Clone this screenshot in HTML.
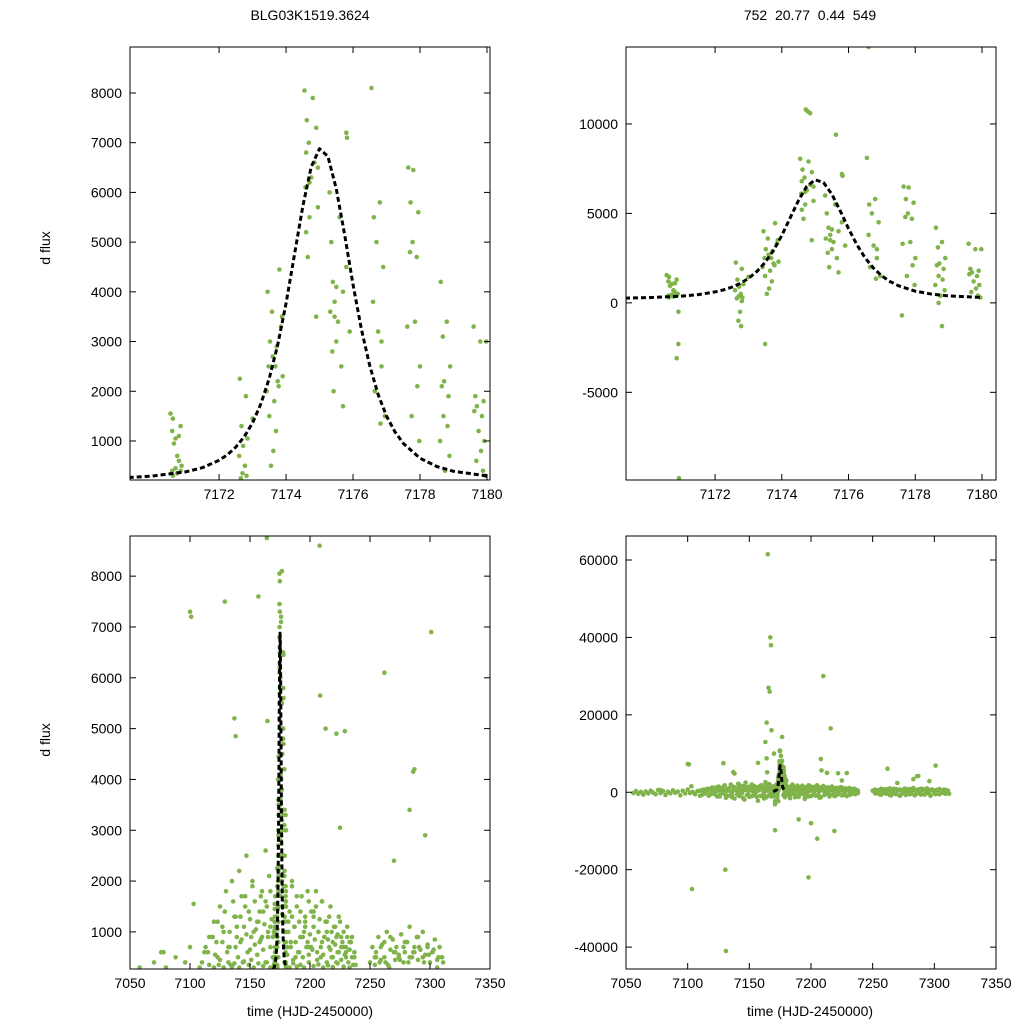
<!DOCTYPE html>
<html><head><meta charset="utf-8"><style>
html,body{margin:0;padding:0;background:#fff;overflow:hidden;width:1024px;height:1024px;}
svg{display:block;}
svg text{font-family:"Liberation Sans",sans-serif;font-size:14px;fill:#000;}
</style></head><body>
<svg id="chart" width="1024" height="1024" viewBox="0 0 1024 1024" xmlns="http://www.w3.org/2000/svg">
<rect width="1024" height="1024" fill="#fff"/>
<text x="310" y="20" text-anchor="middle">BLG03K1519.3624</text>
<text x="810" y="20" text-anchor="middle" xml:space="preserve">752  20.77  0.44  549</text>
<text x="50" y="248" text-anchor="middle" transform="rotate(-90 50 248)">d flux</text>
<text x="50" y="740" text-anchor="middle" transform="rotate(-90 50 740)">d flux</text>
<text x="310" y="1016" text-anchor="middle">time (HJD-2450000)</text>
<text x="810" y="1016" text-anchor="middle">time (HJD-2450000)</text>
</svg>
<script>
// zoom-window photometry (t, dflux)
const zoomT = [7170.55,7170.62,7170.6,7170.7,7170.65,7170.8,7170.7,7170.85,7170.75,7170.62,7170.8,7170.9,7170.85,7170.6,7170.9,7170.85,7170.92,7170.88,7170.75,
7172.62,7172.8,7172.67,7172.85,7172.72,7172.6,7172.77,7172.7,7172.82,7172.65,7172.75,7172.7,7172.78,7172.8,7173.0,
7173.42,7173.75,7173.48,7173.6,7173.52,7173.85,7173.58,7173.45,7173.8,7173.65,7173.5,7173.7,7173.62,7173.55,7173.5,7173.78,7173.9,7173.68,7173.72,7173.88,
7174.55,7174.8,7174.62,7174.9,7174.68,7174.6,7174.85,7174.75,7174.58,7174.95,7174.7,7174.65,7174.9,7174.72,7174.78,7174.85,7174.95,7174.6,7174.7,
7175.3,7175.6,7175.35,7175.8,7175.4,7175.7,7175.45,7175.32,7175.55,7175.9,7175.5,7175.38,7175.65,7175.42,7175.7,7175.8,7175.82,7175.62,7175.45,7175.5,
7176.55,7176.8,7176.62,7176.7,7176.9,7176.6,7176.75,7176.85,7176.65,7176.95,7176.82,7176.6,7176.85,
7177.65,7177.8,7177.72,7177.95,7177.78,7177.7,7177.9,7177.85,7177.62,7178.0,7177.92,7177.75,7177.98,7177.6,
7178.62,7178.8,7178.68,7178.9,7178.72,7178.65,7178.85,7178.7,7178.82,7178.6,7178.88,7178.75,7178.8,7178.7,
7179.6,7179.8,7179.65,7179.9,7179.7,7179.62,7179.85,7179.75,7179.92,7179.82,7179.68,7179.88,7179.95,7179.98];
const zoomV = [1550,1450,1200,1050,950,600,450,400,350,300,1100,-500,1300,400,-2300,-3100,-9800,500,700,
2250,1900,1300,1050,900,700,500,350,300,250,-500,-1000,-1300,100,1450,
2000,2200,2500,2700,3000,3300,3600,4000,4450,1800,1500,1200,800,500,-2300,2100,2300,2500,2900,3500,
8050,7900,7450,7300,7000,6800,6600,6300,6100,5700,5500,4700,3500,10800,10700,10600,6500,5200,6200,
6000,5500,5000,4500,4200,4000,3800,3600,3400,3200,3000,2800,2500,2000,1700,7200,7100,9400,3500,4100,
8100,5800,5500,5000,4500,3800,3200,2500,2000,1500,1350,14300,3000,
6500,6450,5800,5600,5000,4800,4700,3400,3300,2500,2100,1500,1000,-700,
4200,3400,3100,2500,2200,2100,1900,1500,1300,1000,700,400,-1300,0,
3300,3000,1900,1800,1700,1600,1500,1200,1000,800,600,400,300,3000];
// full-season photometry
const seasonT = [7056,7058,7060,7062,7064,7066,7068,7070,7072,7074,7076,7078,7080,7082,7084,7086,7088,7090,7092,7094,7096,7098,7100,7102,7104,7106,7108,7110,7112,7114,7116,7118,7120,7121,7122,7124,7125,7126,7128,7129,7130,7131,7132,7134,7135,7136,7137,7138,7139,7140,7141,7142,7143,7144,7145,7146,7147,7148,7149,7150,7151,7152,7153,7154,7155,7156,7157,7158,7159,7160,7161,7162,7163,7164,7165,7166,7167,7168,7169,7170,
7178,7179,7180,7181,7182,7183,7184,7185,7186,7187,7188,7189,7190,7191,7192,7193,7194,7195,7196,7197,7198,7199,7200,7201,7202,7203,7204,7205,7206,7207,7208,7209,7210,7211,7212,7213,7214,7215,7216,7217,7218,7219,7220,7221,7222,7223,7224,7225,7226,7227,7228,7229,7230,7231,7232,7233,7234,7235,7236,7237,7238,
7252,7254,7256,7258,7260,7262,7264,7266,7268,7270,7272,7274,7276,7278,7280,7282,7284,7286,7288,7290,7292,7294,7296,7298,7300,7302,7304,7306,7308,7310,7312,
7115,7118,7123,7127,7133,7138,7142,7146,7150,7153,7157,7160,7163,7167,7181,7185,7188,7192,7196,7199,7203,7206,7210,7214,7218,7222,7226,7230,7234,7237,7255,7259,7263,7267,7271,7275,7279,7283,7287,7291,7295,7299,7303,7307,7311,
7112,7117,7122,7126,7131,7136,7141,7145,7149,7152,7156,7159,7162,7168,7183,7187,7191,7195,7198,7202,7207,7211,7215,7219,7223,7227,7231,7235,7253,7257,7261,7265,7269,7273,7277,7281,7285,7289,7293,7297,7301,7305,7309,
7100,7101,7164,7208,7157,7301,7262,7137,7164.5,7138,7208.5,7213,7222,7229,7287,7286,7283,7225,7296,7270,7103,7078,
7166,7165,7167,7167.5,7165.5,7166.5,7164,7168,7163,7170,7131,7297,7103.5,7198,7130.5,7210,7216,7129,7175,7176,7200,7205,7190,7219];
const seasonV = [-200,300,-400,100,-600,200,-300,400,-100,-500,600,-200,300,-700,150,-300,500,-100,200,-800,400,-300,700,-200,100,-500,300,-900,600,-300,900,-600,1200,-400,800,-1100,1500,-700,1000,-300,1800,-1400,700,-900,2000,-600,1300,-1600,900,-500,2200,-1000,1700,-300,1100,-1900,2500,-700,1400,-1200,900,2000,-800,1600,-400,1200,-2200,800,1700,-900,1400,-600,2600,-1300,1000,-700,1800,-400,900,-1100,
1900,-900,1500,-600,1200,-1500,800,2000,-400,1100,-800,1700,-1200,600,1400,-300,900,-1700,1200,-500,800,1600,-1000,700,-400,1300,-900,1800,-600,1000,-1300,500,1600,-700,900,-300,1200,-1100,700,1500,-500,800,-900,1100,-400,600,1300,-800,900,-300,700,-1000,500,1100,-600,800,-300,900,-500,600,-200,
-300,500,-600,400,-200,800,-700,300,-400,600,-900,500,-300,700,-500,400,-800,600,-300,900,-600,500,-400,700,-300,600,-500,300,-200,500,-400,
600,900,500,1100,700,1300,800,1500,650,1000,1200,900,1600,1100,700,1300,500,900,1100,700,1400,600,800,1000,500,900,700,600,800,500,500,700,400,900,600,450,800,500,600,700,400,550,650,500,400,
-600,-900,-500,-1100,-700,-1300,-800,-1500,-650,-1000,-1200,-900,-1600,-1100,-700,-1300,-500,-900,-1100,-700,-1400,-600,-800,-1000,-500,-700,-600,-400,-300,-600,-400,-800,-500,-600,-700,-400,-500,-600,-400,-900,-500,-300,-400,
7300,7200,8750,8600,7600,6900,6100,5200,5150,4850,5650,5000,4900,4950,4200,4150,3400,3050,2900,2400,1550,600,
67000,61500,40000,38000,27000,26000,18000,16000,13000,10000,-41000,-46000,-25000,-22000,-20000,30000,16500,7500,5500,4000,-8000,-12000,-7000,-10000];
// dense low-amplitude season photometry
const denseT = [7110,7113,7116,7119,7121,7123,7125,7127,7129,7131,7133,7134,7136,7138,7139,7140,7142,7143,7144,7146,7147,7148,7150,7151,7152,7154,7155,7156,7158,7159,7160,7161,7162,7163,7164,7165,7166,7167,7168,7169,7170,7171,
7178,7179,7180,7181,7182,7183,7184,7185,7186,7187,7188,7189,7190,7191,7192,7193,7194,7195,7196,7197,7198,7199,7200,7201,7202,7203,7204,7205,7206,7207,7208,7209,7210,7211,7212,7213,7214,7215,7216,7217,7218,7219,7220,7221,7222,7223,7224,7225,7226,7227,7228,7229,7230,7231,7232,7233,7234,7235,7236,7237,
7250,7252,7254,7255,7257,7259,7260,7262,7264,7265,7267,7269,7271,7272,7274,7276,7278,7279,7281,7283,7285,7287,7289,7290,7292,7294,7296,7298,7300,7302,7304,7306,7308,7310,
7120,7124,7128,7132,7135,7137,7141,7145,7149,7153,7157,7161,7164,7167,7170,7180,7183,7186,7189,7192,7195,7199,7203,7207,7211,7215,7219,7223,7228,7233,7238];
const denseV = [400,700,350,900,550,1200,450,800,1400,600,1000,350,1600,700,1100,500,1300,850,400,1700,950,600,1250,450,1900,750,1050,550,1400,850,1800,650,1150,400,1500,900,2100,700,1250,500,1000,1700,
1200,800,1600,550,1000,1400,700,1900,450,1100,800,1500,600,1200,900,1700,500,1000,1300,700,1800,550,950,1400,650,1100,850,1500,450,1000,1250,700,1600,550,900,1200,400,850,1300,650,1000,500,1100,750,400,950,600,1200,450,800,1000,550,700,900,400,650,800,500,350,600,
400,700,350,600,900,450,750,500,1000,350,650,850,450,700,550,950,400,600,800,1100,500,700,900,450,650,1000,550,750,400,600,850,450,700,500,
300,350,300,400,320,380,300,420,350,300,380,330,400,300,350,330,300,380,320,350,300,400,330,360,300,340,310,380,320,300,350];
// microlensing model samples (t, dflux)
const modelT = [7169.3,7170,7171,7171.5,7172,7172.25,7172.5,7172.75,7173,7173.25,7173.5,7173.75,7174,7174.25,7174.5,7174.75,7175,7175.25,7175.5,7175.75,7176,7176.25,7176.5,7176.75,7177,7177.25,7177.5,7178,7178.5,7179,7180];
const modelV = [265,293,377,463,611,724,877,1084,1365,1749,2262,2932,3773,4741,5720,6513,6880,6725,6070,5143,4150,3249,2510,1937,1500,1186,951,653,486,391,298];

const svg = document.getElementById('chart');
const NS = 'http://www.w3.org/2000/svg';
const GREEN = '#80b34a';
function mk(tag, attrs, parent){const e=document.createElementNS(NS,tag);for(const k in attrs)e.setAttribute(k,attrs[k]);parent.appendChild(e);return e;}

function panel(id, L, T, R, B, xmin, xmax, ymin, ymax, xticks, yticks, sets){
  const sx = t => L + (t - xmin) / (xmax - xmin) * (R - L);
  const sy = v => B - (v - ymin) / (ymax - ymin) * (B - T);
  const g = mk('g', {}, svg);
  
  
  const cp = mk('clipPath', {id: id + '-clip'}, g);
  mk('rect', {x: L, y: T, width: R - L, height: B - T}, cp);
  const pts = mk('g', {'clip-path': 'url(#' + id + '-clip)'}, g);
  
  
  for (const [ts, vs] of sets) {
    for (let i = 0; i < ts.length; i++) {
      const c = mk('circle', {cx: sx(ts[i]).toFixed(1), cy: sy(vs[i]).toFixed(1), r: 2.3, fill: GREEN}, pts);
      
      
    }
  }
  let d = '';
  modelT.forEach((t, i) => { d += (i ? 'L' : 'M') + sx(t).toFixed(1) + ',' + sy(modelV[i]).toFixed(1); });
  const ml = mk('path', {d: d, fill: 'none', stroke: '#000', 'stroke-width': 3, 'stroke-dasharray': '5,3', 'stroke-linejoin': 'round'}, pts);
  
  
  const fr = mk('rect', {x: L, y: T, width: R - L, height: B - T, fill: 'none', stroke: '#000', 'stroke-width': 1}, g);
  
  
  for (const t of xticks) {
    const x = sx(t);
    mk('line', {x1: x, y1: B, x2: x, y2: B - 6, stroke: '#000'}, g);
    mk('line', {x1: x, y1: T, x2: x, y2: T + 6, stroke: '#000'}, g);
    const tx = mk('text', {x: x, y: B + 19, 'text-anchor': 'middle'}, g);
    tx.textContent = t;
    
    
  }
  for (const v of yticks) {
    const y = sy(v);
    mk('line', {x1: L, y1: y, x2: L + 6, y2: y, stroke: '#000'}, g);
    mk('line', {x1: R, y1: y, x2: R - 6, y2: y, stroke: '#000'}, g);
    const ty = mk('text', {x: L - 8, y: y + 5, 'text-anchor': 'end'}, g);
    ty.textContent = v;
    
    
  }
}
const zx = [7172, 7174, 7176, 7178, 7180];
const sxT = [7050, 7100, 7150, 7200, 7250, 7300, 7350];
panel('top-left', 130, 47, 490, 480, 7169.34, 7180.09, 215, 8925, zx, [1000,2000,3000,4000,5000,6000,7000,8000], [[zoomT, zoomV]]);
panel('top-right', 626, 47, 996, 480, 7169.33, 7180.42, -9900, 14300, zx, [-5000,0,5000,10000], [[zoomT, zoomV]]);
panel('bottom-left', 130, 536, 490, 969, 7050, 7350, 270, 8790, sxT, [1000,2000,3000,4000,5000,6000,7000,8000], [[seasonT, seasonV],[denseT, denseV],[zoomT, zoomV]]);
panel('bottom-right', 626, 536, 996, 969, 7050, 7350, -45650, 66200, sxT, [-40000,-20000,0,20000,40000,60000], [[seasonT, seasonV],[denseT, denseV],[zoomT, zoomV]]);
</script>
</body></html>
